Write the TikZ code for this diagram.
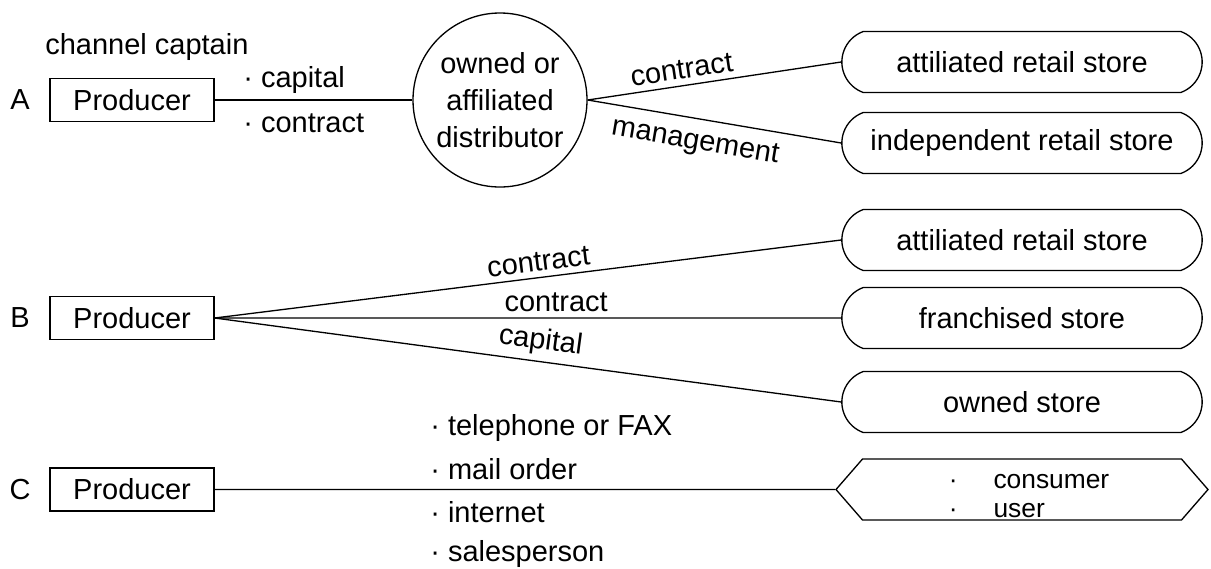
\documentclass[tikz,border=0pt]{standalone}
\usepackage{fontspec}
\setmainfont{Liberation Sans}
\usetikzlibrary{shapes.geometric, shapes.misc, shapes.symbols, positioning}
\tikzstyle{producer} = [rectangle, minimum width=3.28cm, minimum height=0.86cm, text centered, draw=black, line width=0.75pt]
\tikzstyle{distributor} = [circle, minimum size=3.48cm, inner sep=0pt, align=center, draw=black, line width=0.75pt]
\tikzstyle{store} = [rounded rectangle, rounded rectangle arc length=140, minimum width=7.44cm, minimum height=1.22cm, text centered, draw=black, line width=0.75pt]
\tikzstyle{market} = [signal, signal to=west and east, signal pointer angle=98, minimum width=7.44cm, minimum height=1.22cm, inner ysep=0pt, align=left, font=\fontsize{15}{16.5}\selectfont, draw=black, line width=0.75pt]
\tikzstyle{rowname} = [inner sep=0pt]
\tikzstyle{note} = [anchor=west, inner sep=0pt]
\tikzstyle{link} = [line width=0.75pt]

\begin{document}
\begin{tikzpicture}[node distance = 2cm, font=\fontsize{16.5}{21}\selectfont]
        \useasboundingbox (0,0) rectangle (24.22,-11.36);
        \node (prodA) [producer] at (2.64,-2.0) {Producer};
        \node (prodB) [producer, below of=prodA, yshift=-2.36cm] {Producer};
        \node (prodC) [producer, below of=prodB, yshift=-1.43cm] {Producer};
        \node (rowA) [rowname, left of=prodA, xshift=-0.24cm] {A};
        \node (rowB) [rowname, left of=prodB, xshift=-0.24cm] {B};
        \node (rowC) [rowname, left of=prodC, xshift=-0.24cm] {C};
        \node (captain) [note] at (0.9,-0.94) {channel captain};
        \node (distA) [distributor, right of=prodA, xshift=5.36cm] {owned or\\affiliated\\distributor};
        \node (retA1) [store] at (20.44,-1.24) {attiliated retail store};
        \node (retA2) [store, below of=retA1, yshift=0.38cm] {independent retail store};
        \node (retB1) [store, below of=retA2, yshift=0.06cm] {attiliated retail store};
        \node (retB2) [store, below of=retB1, yshift=0.44cm] {franchised store};
        \node (retB3) [store, below of=retB2, yshift=0.32cm] {owned store};
        \node (market) [market, below of=retB3, yshift=0.25cm] {\hspace*{0.28cm}\rule{0pt}{1em}·\hspace{0.72cm}consumer\\\hspace*{0.28cm}·\hspace{0.72cm}user};
        \node (capA) [note] at (4.86,-1.6) {· capital};
        \node (conA) [note] at (4.86,-2.46) {· contract};
        \node (telC) [note] at (8.6,-8.56) {· telephone or FAX};
        \node (mailC) [note] at (8.6,-9.38) {· mail order};
        \node (netC) [note] at (8.6,-10.24) {· internet};
        \node (salesC) [note] at (8.6,-11.08) {· salesperson};
        \draw [link] (prodA) -- (distA);
        \draw [link] (distA.east) -- node[above, sloped, pos=0.38]{contract} (retA1.west);
        \draw [link] (distA.east) -- node[below=3pt, sloped, pos=0.44]{management} (retA2.west);
        \draw [link] (prodB.east) -- node[above, sloped, pos=0.52]{contract} (retB1.west);
        \draw [link] (prodB.east) -- node[above, pos=0.545]{contract} (retB2.west);
        \draw [link] (prodB.east) -- node[above, sloped, pos=0.516]{capital} (retB3.west);
        \draw [link] (prodC) -- (market);
      \end{tikzpicture}
\end{document}
